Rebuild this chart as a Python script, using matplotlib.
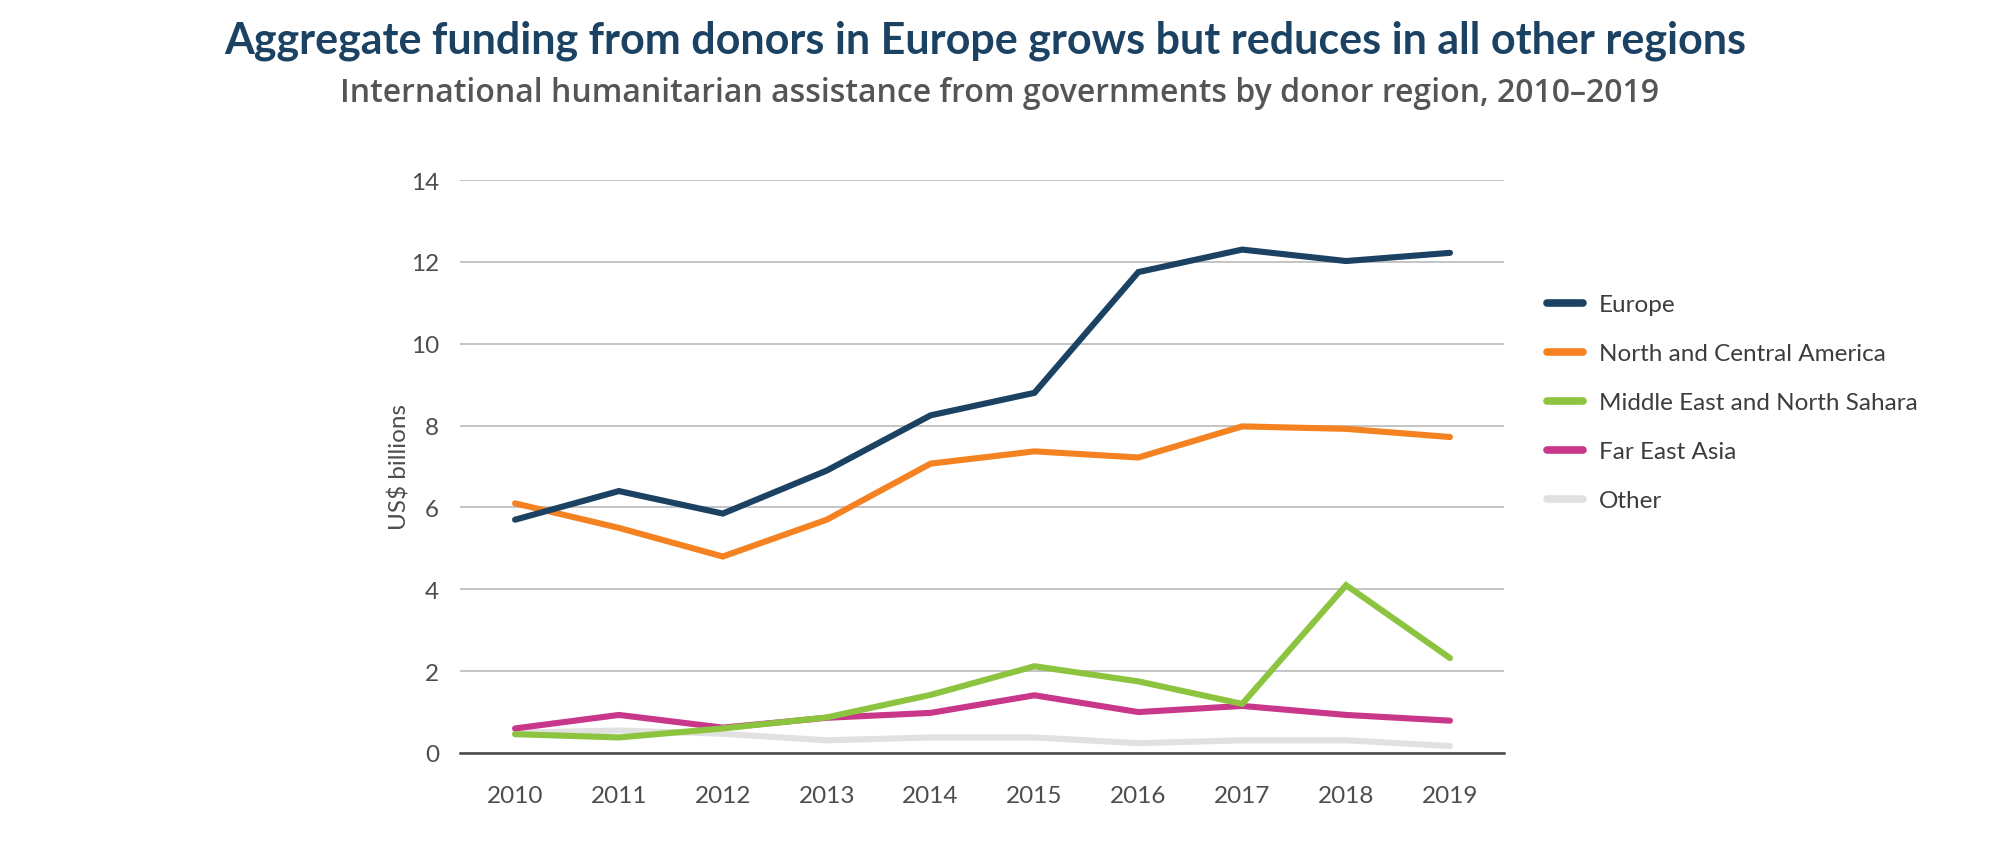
import numpy as np
import matplotlib
matplotlib.use("Agg")
import matplotlib.pyplot as plt

years = [2010, 2011, 2012, 2013, 2014, 2015, 2016, 2017, 2018, 2019]
europe = [5.7, 6.4, 5.85, 6.9, 8.25, 8.8, 11.75, 12.3, 12.02, 12.22]
north_central_america = [6.1, 5.5, 4.8, 5.7, 7.07, 7.37, 7.22, 7.98, 7.92, 7.72]
middle_east = [0.46, 0.38, 0.6, 0.87, 1.42, 2.12, 1.75, 1.2, 4.1, 2.32]
far_east_asia = [0.6, 0.93, 0.62, 0.86, 0.98, 1.41, 1.0, 1.15, 0.93, 0.79]
other = [0.5, 0.55, 0.47, 0.31, 0.38, 0.38, 0.24, 0.31, 0.31, 0.17]

labels = ["Europe", "North and Central America", "Middle East and North Sahara",
          "Far East Asia", "Other"]
colors = ["#1b4263", "#f58220", "#8cc43f", "#c9378a", "#e0e1e0"]

plt.rcParams['font.family'] = ['Lato', 'DejaVu Sans']

fig = plt.figure(figsize=(19.97, 8.45), dpi=100)
ax = fig.add_axes([460 / 1997, 91 / 845, 1044 / 1997, 573 / 845])

series = [europe, north_central_america, middle_east, far_east_asia, other]
# draw "Other" first so it sits underneath
for vals, col, lab in reversed(list(zip(series, colors, labels))):
    ax.plot(years, vals, color=col, lw=4.4, solid_capstyle='round',
            solid_joinstyle='miter', label=lab)

ax.set_xlim(2009.47, 2019.52)
ax.set_ylim(0, 14)
ax.set_yticks(np.arange(0, 15, 2))
ax.set_xticks(years)
ax.grid(axis='y', color='#c4c4c4', lw=1.4)
ax.set_axisbelow(True)
for s in ['top', 'right', 'left']:
    ax.spines[s].set_visible(False)
ax.spines['bottom'].set_color('#4a4547')
ax.spines['bottom'].set_linewidth(1.8)
ax.spines['bottom'].set_zorder(5)
ax.tick_params(axis='both', length=0, labelsize=17.5, colors='#4d4d4d')
ax.tick_params(axis='y', pad=15)
ax.tick_params(axis='x', pad=23)
ax.set_ylabel("US$ billions", fontsize=17.5, color='#4d4d4d', labelpad=0)

handles, labs = ax.get_legend_handles_labels()
leg = ax.legend(handles[::-1], labs[::-1], loc='upper left',
                bbox_to_anchor=(1.030, 0.822), frameon=False, borderpad=0,
                fontsize=17.5, labelspacing=1.15, handlelength=1.45, handletextpad=0.65,
                labelcolor='#3d3d3d')
for line in leg.get_lines():
    line.set_linewidth(5.5)

fig.text(985 / 1997, 1 - 41 / 845,
         "Aggregate funding from donors in Europe grows but reduces in all other regions",
         ha='center', va='center', fontsize=31, fontweight='bold', color='#1b4263')
fig.text(999 / 1997, 1 - 94 / 845,
         "International humanitarian assistance from governments by donor region, 2010\u20132019",
         ha='center', va='center', fontsize=23, fontweight='semibold', color='#555555',
         family=['Open Sans', 'DejaVu Sans'])

fig.savefig("out.png", dpi=100)
plt.close(fig)
